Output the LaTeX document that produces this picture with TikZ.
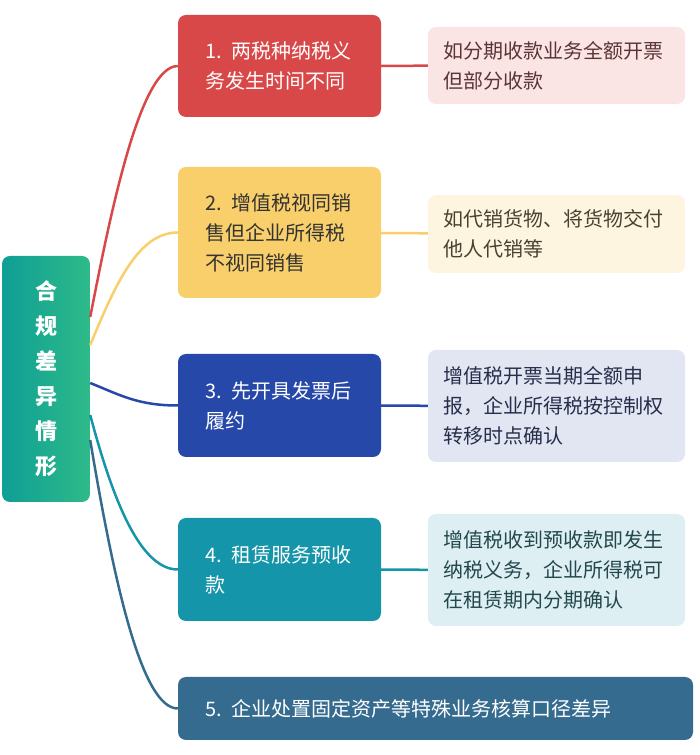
\documentclass[tikz,border=0pt]{standalone}
\usepackage{fontspec}
\setmainfont{Noto Sans CJK SC}
\usetikzlibrary{positioning}
\definecolor{rootL}{HTML}{0E9F95}
\definecolor{rootR}{HTML}{2EBA89}
\definecolor{redA}{HTML}{D84848}
\definecolor{yelA}{HTML}{F8CF6A}
\definecolor{bluA}{HTML}{2648A8}
\definecolor{tealA}{HTML}{1495A9}
\definecolor{steelA}{HTML}{356B8E}
\definecolor{redB}{HTML}{FBE4E4}
\definecolor{yelB}{HTML}{FEF5E0}
\definecolor{bluB}{HTML}{E2E6F3}
\definecolor{tealB}{HTML}{DDEFF2}

\begin{document}
\begin{tikzpicture} [x=1pt,y=1pt,font=\fontsize{20}{30}\selectfont]

\tikzstyle{topic}=[rounded corners=8pt,minimum width=203pt,inner xsep=27pt,
  text width=149pt,align=left,text=white]
\tikzstyle{detail}=[rounded corners=8pt,minimum width=257pt,inner xsep=15pt,
  text width=227pt,align=left]
\tikzstyle{link}=[line width=2.5pt]

\useasboundingbox (0,0) rectangle (700,755);

 \node[rounded corners=8pt,left color=rootL,right color=rootR,
  minimum width=88pt,minimum height=246pt,text=white,align=center,
  font=\fontsize{22}{35}\selectfont\bfseries] (root) at (46,376)
  {合\\规\\差\\异\\情\\形};

 \node[topic,fill=redA,minimum height=102pt] (t1) at (279.5,689)
  {1. 两税种纳税义\\务发生时间不同};
 \node[topic,fill=yelA,minimum height=131pt,text=black!80] (t2) at (279.5,522.5)
  {2. 增值税视同销\\售但企业所得税\\不视同销售};
 \node[topic,fill=bluA,minimum height=103pt] (t3) at (279.5,349.5)
  {3. 先开具发票后\\履约};
 \node[topic,fill=tealA,minimum height=103pt] (t4) at (279.5,185.5)
  {4. 租赁服务预收\\款};
 \node[topic,fill=steelA,minimum height=63pt,minimum width=515pt,
  text width=461pt] (t5) at (435.5,46.5)
  {5. 企业处置固定资产等特殊业务核算口径差异};

 \node[detail,fill=redB,minimum height=77pt,text={rgb,255:red,90;green,53;blue,53}]
  (d1) at (556.5,689.5) {如分期收款业务全额开票\\但部分收款};
 \node[detail,fill=yelB,minimum height=78pt,text={rgb,255:red,74;green,64;blue,48}]
  (d2) at (556.5,521) {如代销货物、将货物交付\\他人代销等};
 \node[detail,fill=bluB,minimum height=112pt,text={rgb,255:red,38;green,46;blue,74}]
  (d3) at (556.5,349) {增值税开票当期全额申\\报，企业所得税按控制权\\转移时点确认};
 \node[detail,fill=tealB,minimum height=112pt,text={rgb,255:red,35;green,71;blue,77}]
  (d4) at (556.5,185) {增值税收到预收款即发生\\纳税义务，企业所得税可\\在租赁期内分期确认};

 % branches
 \draw[link,redA] ([yshift=62pt]root.east) .. controls +(20,102) and +(-38,0) .. (t1.west);
 \draw[link,yelA] ([yshift=34pt]root.east) .. controls +(25,60) and +(-40,0) .. (t2.west);
 \draw[link,bluA] ([yshift=-4pt]root.east) .. controls +(30,-12) and +(-40,0) .. (t3.west);
 \draw[link,tealA] ([yshift=-36pt]root.east) .. controls +(20,-75) and +(-40,0) .. (t4.west);
 \draw[link,steelA] ([yshift=-61pt]root.east) .. controls +(25,-150) and +(-35,0) .. (t5.west);

 \draw[link,redA] (t1) -- (d1);
 \draw[link,yelA] (t2) -- (d2);
 \draw[link,bluA] (t3) -- (d3);
 \draw[link,tealA] (t4) -- (d4);
\end{tikzpicture}
\end{document}
